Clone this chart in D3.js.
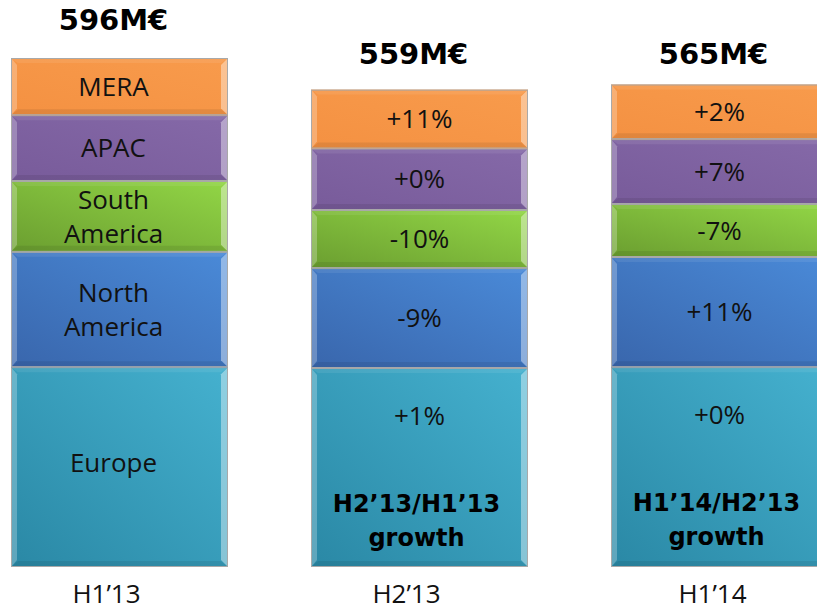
<!DOCTYPE html>
<html>
<head>
<meta charset="utf-8">
<script src="https://cdn.jsdelivr.net/npm/d3@7"></script>
<style>
  body { margin: 0; background: #fff; }
  svg { display: block; }
  .seg-label { font-family: "Open Sans", "DejaVu Sans", sans-serif; font-size: 26px; fill: #111; }
  .total { font-family: "DejaVu Sans", sans-serif; font-weight: bold; font-size: 29px; fill: #000; }
  .growth { font-family: "DejaVu Sans", sans-serif; font-weight: bold; font-size: 24px; fill: #000; }
  .cat { font-family: "Open Sans", "DejaVu Sans", sans-serif; font-size: 26px; fill: #111; }
</style>
</head>
<body>
<div id="chart"></div>
<script>
// periods and regions (bottom to top)
var periods = ["H1’13", "H2’13", "H1’14"];
var regions = ["Europe", "North America", "South America", "APAC", "MERA"];
var regionLabels = [["Europe"], ["North", "America"], ["South", "America"], ["APAC"], ["MERA"]];
// revenue per region in M€
var europe = [234, 233, 234];
var northAmerica = [135, 117, 129];
var southAmerica = [83, 68, 62];
var apac = [77, 72, 76];
var mera = [67, 69, 64];
var totals = ["596M€", "559M€", "565M€"];
// growth labels for the second and third bars
var growthEurope = ["+1%", "+0%"];
var growthNA = ["-9%", "+11%"];
var growthSA = ["-10%", "-7%"];
var growthAPAC = ["+0%", "+7%"];
var growthMERA = ["+11%", "+2%"];
var growthTitles = [["H2’13/H1’13", "growth"], ["H1’14/H2’13", "growth"]];

var colors = {
  "Europe": ["#2a88a5", "#45b1cf"],
  "North America": ["#3966ac", "#4a8ad8"],
  "South America": ["#6b9e30", "#92d646"],
  "APAC": ["#785b9a", "#8569a8"],
  "MERA": ["#f49142", "#f89b4c"]
};

var width = 817, height = 611;
var svg = d3.select("#chart").append("svg")
    .attr("width", width)
    .attr("height", height);

var defs = svg.append("defs");
regions.forEach(function(r, i) {
  var g = defs.append("linearGradient")
      .attr("id", "grad" + i)
      .attr("x1", 0).attr("y1", 1)
      .attr("x2", 1).attr("y2", 0);
  g.append("stop").attr("offset", "0%").attr("stop-color", colors[r][0]);
  g.append("stop").attr("offset", "100%").attr("stop-color", colors[r][1]);
});

var xScale = d3.scaleBand().domain(periods).range([11, 828]).paddingInner(0.2767).paddingOuter(0);
var yScale = d3.scaleLinear().domain([0, 596]).range([567, 58]);

var table = periods.map(function(p, i) {
  return { period: p, "Europe": europe[i], "North America": northAmerica[i],
           "South America": southAmerica[i], "APAC": apac[i], "MERA": mera[i] };
});
var stacked = d3.stack().keys(regions)(table);

var growthByRegion = [growthEurope, growthNA, growthSA, growthAPAC, growthMERA];

stacked.forEach(function(layer, li) {
  layer.forEach(function(d, pi) {
    var x0 = xScale(periods[pi]);
    var w = xScale.bandwidth();
    var yTop = yScale(d[1]);
    var yBot = yScale(d[0]);
    var h = yBot - yTop;
    var g = svg.append("g").attr("class", "seg");

    g.append("rect")
      .attr("x", x0).attr("y", yTop)
      .attr("width", w).attr("height", h)
      .attr("fill", "url(#grad" + li + ")");
    // bevel: light strips on the sides, faint dark strip at the bottom
    g.append("path")
      .attr("d", "M" + (x0 + 1) + "," + (yTop + 1) + " l5,6 v" + (h - 14) + " l-5,6 z")
      .attr("fill", "#fff").attr("opacity", 0.25);
    g.append("path")
      .attr("d", "M" + (x0 + w - 1) + "," + (yTop + 1) + " l-6,6 v" + (h - 14) + " l6,6 z")
      .attr("fill", "#fff").attr("opacity", 0.4);
    g.append("path")
      .attr("d", "M" + (x0 + 1) + "," + (yBot - 1) + " l6,-5 h" + (w - 14) + " l6,5 z")
      .attr("fill", "#000").attr("opacity", 0.08);
    g.append("path")
      .attr("d", "M" + (x0 + 1) + "," + (yTop + 1) + " l6,4 h" + (w - 14) + " l6,-4 z")
      .attr("fill", "#fff").attr("opacity", 0.08);
    g.append("rect")
      .attr("x", x0 + 0.5).attr("y", yTop + 0.5)
      .attr("width", w - 1).attr("height", h - 1)
      .attr("fill", "none").attr("stroke", "#a9a9a9").attr("stroke-width", 1);

    var cx = x0 + w / 2;
    if (pi === 0) {
      var lines = regionLabels[li];
      var cy = (yTop + yBot) / 2 - (li === 0 ? 4 : 0);
      var lh = 34;
      lines.forEach(function(t, k) {
        g.append("text").attr("class", "seg-label")
          .attr("x", cx - 6)
          .attr("y", cy + (k - (lines.length - 1) / 2) * lh)
          .attr("dy", "0.35em")
          .attr("text-anchor", "middle")
          .text(t);
      });
    } else {
      var gy = li === 0 ? yTop + h * 0.24 : (yTop + yBot) / 2;
      g.append("text").attr("class", "seg-label")
        .attr("x", cx).attr("y", gy).attr("dy", "0.35em")
        .attr("text-anchor", "middle")
        .text(growthByRegion[li][pi - 1]);
      if (li === 0) {
        growthTitles[pi - 1].forEach(function(t, k) {
          g.append("text").attr("class", "growth")
            .attr("x", cx - 3).attr("y", yTop + h * 0.68 + k * 34).attr("dy", "0.35em")
            .attr("text-anchor", "middle")
            .text(t);
        });
      }
    }
  });
});

// totals above bars
var totalGap = [28, 26, 20];
svg.selectAll(".total").data(periods).enter().append("text")
  .attr("class", "total")
  .attr("x", function(p) { return xScale(p) + xScale.bandwidth() / 2 - 6; })
  .attr("y", function(p, i) {
    var t = d3.sum(regions, function(r) { return table[i][r]; });
    return yScale(t) - totalGap[i];
  })
  .attr("text-anchor", "middle")
  .text(function(p, i) { return totals[i]; });

// category labels
svg.selectAll(".cat").data(periods).enter().append("text")
  .attr("class", "cat")
  .attr("x", function(p, i) { return xScale(p) + xScale.bandwidth() / 2 - (i === 2 ? 7 : 13); })
  .attr("y", 603)
  .attr("text-anchor", "middle")
  .text(function(p) { return p; });
</script>
</body>
</html>
